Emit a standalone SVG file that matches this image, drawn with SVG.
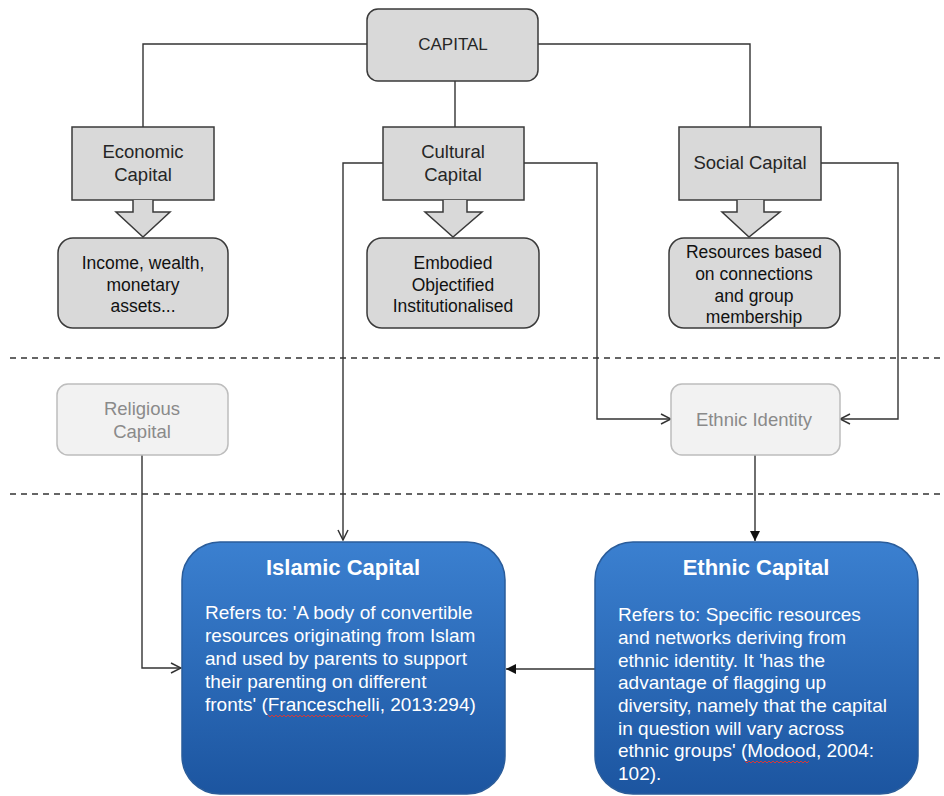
<svg xmlns="http://www.w3.org/2000/svg" width="944" height="796" viewBox="0 0 944 796">
<defs>
<linearGradient id="blue" x1="0" y1="0" x2="0" y2="1">
<stop offset="0" stop-color="#3b80d0"/>
<stop offset="1" stop-color="#1c55a0"/>
</linearGradient>
<marker id="open" viewBox="0 0 12 12" refX="11" refY="6" markerWidth="12" markerHeight="12" markerUnits="userSpaceOnUse" orient="auto">
<path d="M1,1 L11,6 L1,11" fill="none" stroke="#333" stroke-width="1.5"/>
</marker>
<marker id="solid" viewBox="0 0 10 10" refX="10" refY="5" markerWidth="10" markerHeight="10" markerUnits="userSpaceOnUse" orient="auto">
<path d="M0,0 L10,5 L0,10 Z" fill="#111"/>
</marker>
</defs>
<style>
text{font-family:"Liberation Sans",Arial,sans-serif;}
.g{fill:#d9d9d9;stroke:#3a3a3a;stroke-width:1.5;}
.lg{fill:#f2f2f2;stroke:#bdbdbd;stroke-width:1.5;}
.t{font-size:18.5px;fill:#262626;text-anchor:middle;}
.s{font-size:17.5px;fill:#111;text-anchor:middle;}
.lt{font-size:18.5px;fill:#8a8a8a;text-anchor:middle;}
.blue{fill:url(#blue);stroke:#2a5c9a;stroke-width:1.5;}
.h{font-size:22px;font-weight:bold;fill:#fff;text-anchor:middle;}
.b{font-size:19px;fill:#fff;}
.c{fill:none;stroke:#333;stroke-width:1.4;}
.d{stroke:#333;stroke-width:1.4;stroke-dasharray:6,5;}
.sq{fill:none;stroke:#d23a3a;stroke-width:1;}
</style>
<rect width="944" height="796" fill="#fff"/>
<g id="connectors">
<path class="c" d="M367,44 H143 V127"/>
<path class="c" d="M538,44 H750 V127"/>
<path class="c" d="M455,81 V127"/>
<path class="c" d="M383,163 H343 V540" marker-end="url(#open)"/>
<path class="c" d="M524,163 H597 V419 H671" marker-end="url(#open)"/>
<path class="c" d="M821,163 H898 V419 H840" marker-end="url(#open)"/>
<path class="c" d="M142,455 V668 H181" marker-end="url(#open)"/>
<path class="c" d="M755,455 V541" marker-end="url(#solid)"/>
<path class="c" d="M595,669 H506" marker-end="url(#solid)"/>
<line class="d" x1="10" y1="358" x2="944" y2="358"/>
<line class="d" x1="10" y1="494" x2="944" y2="494"/>
</g>
<g id="capital">
<rect class="g" x="367" y="9" width="171" height="72" rx="11"/>
<text class="t" x="453" y="50" style="font-size:17px">CAPITAL</text>
</g>
<g id="economic">
<rect class="g" x="72" y="127" width="142" height="73"/>
<text class="t" x="143" y="158">Economic</text>
<text class="t" x="143" y="181">Capital</text>
<path class="g" d="M133,200 V212 H116 L143,237 L170,212 H153 V200"/>
</g>
<g id="income">
<rect class="g" x="58" y="238" width="170" height="90" rx="15"/>
<text class="s" x="143" y="269">Income, wealth,</text>
<text class="s" x="143" y="291">monetary</text>
<text class="s" x="143" y="312">assets...</text>
</g>
<g id="cultural">
<rect class="g" x="383" y="127" width="141" height="73"/>
<text class="t" x="453" y="158">Cultural</text>
<text class="t" x="453" y="181">Capital</text>
<path class="g" d="M443,200 V212 H425 L453,237 L482,212 H467 V200"/>
</g>
<g id="embodied">
<rect class="g" x="367" y="238" width="172" height="90" rx="15"/>
<text class="s" x="453" y="269">Embodied</text>
<text class="s" x="453" y="291">Objectified</text>
<text class="s" x="453" y="312">Institutionalised</text>
</g>
<g id="social">
<rect class="g" x="679" y="127" width="142" height="73"/>
<text class="t" x="750" y="169">Social Capital</text>
<path class="g" d="M737,200 V212 H722 L749,237 L780,212 H764 V200"/>
</g>
<g id="resources">
<rect class="g" x="669" y="238" width="171" height="90" rx="15"/>
<text class="s" x="754" y="258">Resources based</text>
<text class="s" x="754" y="280">on connections</text>
<text class="s" x="754" y="302">and group</text>
<text class="s" x="754" y="323">membership</text>
</g>
<g id="religious">
<rect class="lg" x="57" y="384" width="171" height="71" rx="11"/>
<text class="lt" x="142" y="415">Religious</text>
<text class="lt" x="142" y="438">Capital</text>
</g>
<g id="ethnic-identity">
<rect class="lg" x="671" y="384" width="169" height="71" rx="11"/>
<text class="lt" x="754" y="426">Ethnic Identity</text>
</g>
<g id="islamic">
<rect class="blue" x="182" y="542" width="323" height="252" rx="38"/>
<text class="h" x="343" y="575">Islamic Capital</text>
<text class="b" x="205" y="619">Refers to: 'A body of convertible</text>
<text class="b" x="205" y="642">resources originating from Islam</text>
<text class="b" x="205" y="665">and used by parents to support</text>
<text class="b" x="205" y="688">their parenting on different</text>
<text class="b" x="205" y="711">fronts' (Franceschelli, 2013:294)</text>
<path class="sq" d="M268,715 l2,2 l2,-2 l2,2 l2,-2 l2,2 l2,-2 l2,2 l2,-2 l2,2 l2,-2 l2,2 l2,-2 l2,2 l2,-2 l2,2 l2,-2 l2,2 l2,-2 l2,2 l2,-2 l2,2 l2,-2 l2,2 l2,-2 l2,2 l2,-2 l2,2 l2,-2 l2,2 l2,-2 l2,2 l2,-2 l2,2 l2,-2 l2,2 l2,-2 l2,2 l2,-2 l2,2 l2,-2 l2,2 l2,-2 l2,2 l2,-2 l2,2 l2,-2 l2,2 l2,-2 l2,2 l2,-2"/>
</g>
<g id="ethnic-capital">
<rect class="blue" x="595" y="542" width="323" height="252" rx="38"/>
<text class="h" x="756" y="575">Ethnic Capital</text>
<text class="b" x="618" y="621">Refers to: Specific resources</text>
<text class="b" x="618" y="644">and networks deriving from</text>
<text class="b" x="618" y="667">ethnic identity. It 'has the</text>
<text class="b" x="618" y="689">advantage of flagging up</text>
<text class="b" x="618" y="712">diversity, namely that the capital</text>
<text class="b" x="618" y="735">in question will vary across</text>
<text class="b" x="618" y="757">ethnic groups' (Modood, 2004:</text>
<text class="b" x="618" y="780">102).</text>
<path class="sq" d="M745,761 l2,2 l2,-2 l2,2 l2,-2 l2,2 l2,-2 l2,2 l2,-2 l2,2 l2,-2 l2,2 l2,-2 l2,2 l2,-2 l2,2 l2,-2 l2,2 l2,-2 l2,2 l2,-2 l2,2 l2,-2 l2,2 l2,-2 l2,2 l2,-2 l2,2 l2,-2 l2,2 l2,-2 l2,2 l2,-2"/>
</g>
</svg>
